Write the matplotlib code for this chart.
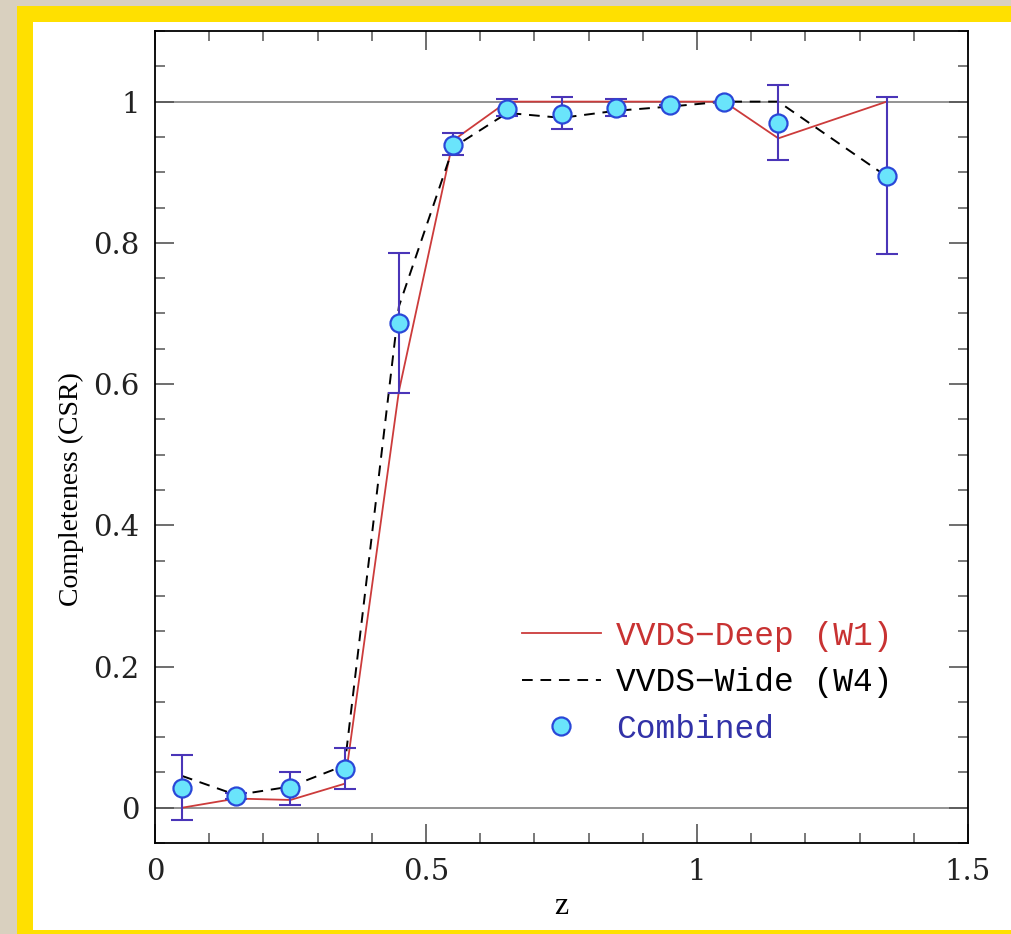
import numpy as np
import matplotlib
matplotlib.use("Agg")
import matplotlib.pyplot as plt
from matplotlib.patches import Rectangle
from matplotlib.ticker import MultipleLocator, FuncFormatter

# redshift bins
z_comb = [0.05, 0.15, 0.25, 0.35, 0.45, 0.55, 0.65, 0.75, 0.85, 0.95, 1.05, 1.15, 1.35]
csr_comb = [0.028, 0.017, 0.028, 0.055, 0.686, 0.939, 0.990, 0.983, 0.991, 0.995, 1.0, 0.970, 0.894]
err_lo = [0.045, 0.004, 0.024, 0.028, 0.099, 0.015, 0.011, 0.022, 0.012, 0.0, 0.0, 0.053, 0.110]
err_hi = [0.047, 0.004, 0.023, 0.030, 0.099, 0.016, 0.014, 0.023, 0.013, 0.0, 0.0, 0.053, 0.112]

z_deep = [0.05, 0.15, 0.25, 0.35, 0.45, 0.55, 0.65, 0.75, 0.85, 0.95, 1.05, 1.15, 1.35]
csr_deep = [0.0, 0.013, 0.011, 0.034, 0.59, 0.945, 1.0, 1.0, 1.0, 1.0, 1.0, 0.948, 1.0]

z_wide = [0.05, 0.15, 0.25, 0.35, 0.45, 0.55, 0.65, 0.75, 0.85, 0.95, 1.05, 1.15, 1.35]
csr_wide = [0.045, 0.018, 0.030, 0.060, 0.71, 0.935, 0.984, 0.977, 0.987, 0.993, 1.0, 1.0, 0.894]

fig = plt.figure(figsize=(10.11, 9.34), dpi=100)
fig.patch.set_facecolor("#d9d0bf")
# yellow frame and white card
fig.patches.append(Rectangle((0.0168, 0.0), 1.0, 0.9936, transform=fig.transFigure,
                             facecolor="#ffe000", edgecolor="none", zorder=-2))
fig.patches.append(Rectangle((0.0326, 0.0043), 1.0, 0.972, transform=fig.transFigure,
                             facecolor="white", edgecolor="none", zorder=-1))

ax = fig.add_axes([0.1533, 0.0974, 0.8042, 0.8694])
ax.set_facecolor("white")

ax.axhline(0, color="#8a8a8a", lw=1.3, zorder=1)
ax.axhline(1, color="#8a8a8a", lw=1.3, zorder=1)

ax.plot(z_deep, csr_deep, color="#cc3b3b", lw=1.3, zorder=2, label="VVDS\u2212Deep (W1)")
ax.plot(z_wide, csr_wide, color="black", lw=1.4, dashes=(5.5, 4), zorder=2,
        label="VVDS\u2212Wide (W4)")
ax.errorbar(z_comb, csr_comb, yerr=[err_lo, err_hi], fmt="none", ecolor="#4a35b8",
            elinewidth=1.5, capsize=8, capthick=1.5, zorder=3)
ax.plot(z_comb, csr_comb, "o", ms=13, mfc="#6ae4fb", mec="#2a48d8", mew=1.6, zorder=4,
        label="Combined", ls="none")

ax.set_xlim(0, 1.5)
ax.set_ylim(-0.05, 1.1)
ax.xaxis.set_major_locator(MultipleLocator(0.5))
ax.xaxis.set_minor_locator(MultipleLocator(0.1))
ax.yaxis.set_major_locator(MultipleLocator(0.2))
ax.yaxis.set_minor_locator(MultipleLocator(0.05))
ax.xaxis.set_major_formatter(FuncFormatter(lambda v, p: "%g" % round(v, 2)))
ax.yaxis.set_major_formatter(FuncFormatter(lambda v, p: "%g" % round(v, 2)))
ax.tick_params(which="both", direction="in", top=True, right=True, color="#555555")
ax.tick_params(which="major", length=14, width=1.2, labelsize=21, pad=11)
ax.tick_params(which="minor", length=7, width=1.1)
for lab in ax.get_xticklabels() + ax.get_yticklabels():
    lab.set_family("DejaVu Serif")
    lab.set_color("#222222")
for s in ax.spines.values():
    s.set_linewidth(1.3)

ax.set_xlabel("z", family="Liberation Serif", fontsize=23, labelpad=4)
ax.set_ylabel("Completeness (CSR)", family="Liberation Serif", fontsize=20)
ax.yaxis.set_label_coords(-0.087, 0.436)

leg = ax.legend(loc="lower left", bbox_to_anchor=(0.431, 0.101), frameon=False,
                prop={"family": "Liberation Mono", "size": 23.7}, handlelength=2.39,
                handletextpad=0.46, labelspacing=0.47, borderpad=0)
for txt, c in zip(leg.get_texts(), ["#c83232", "black", "#3232a8"]):
    txt.set_color(c)

fig.savefig("out.png", dpi=100, facecolor=fig.get_facecolor())
